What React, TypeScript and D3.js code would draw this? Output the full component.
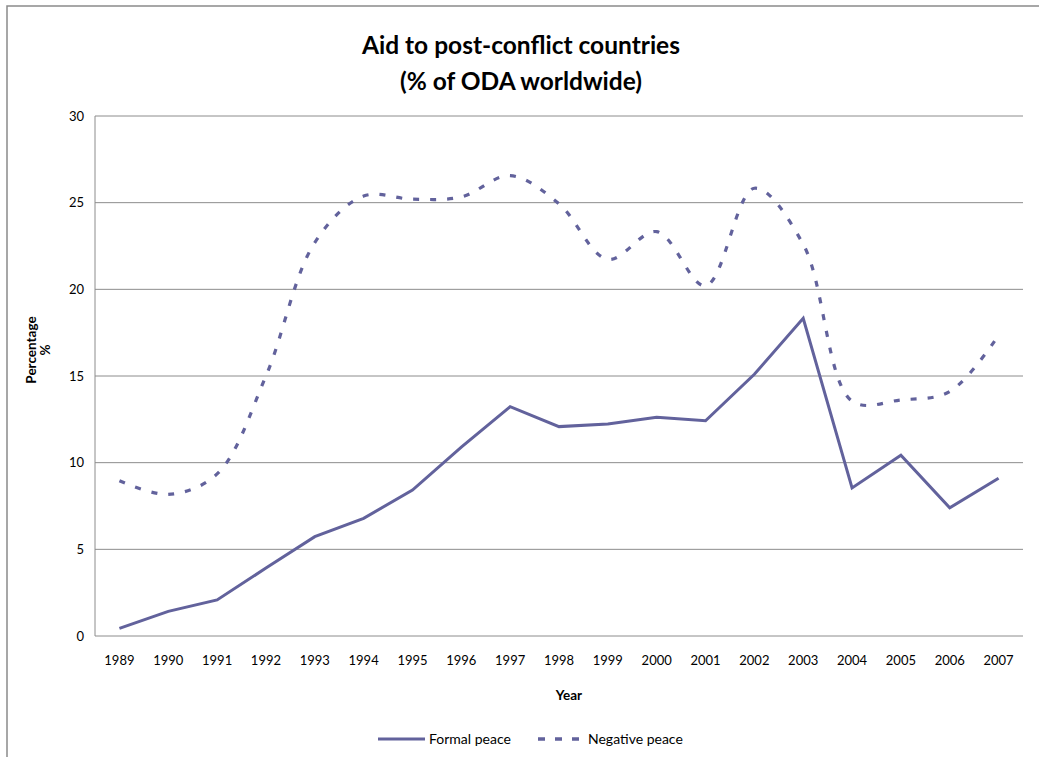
import React from "react";
import * as d3 from "d3";

const years = ["1989","1990","1991","1992","1993","1994","1995","1996","1997","1998","1999","2000","2001","2002","2003","2004","2005","2006","2007"];
const formalPeace = [0.44, 1.42, 2.08, 3.92, 5.73, 6.79, 8.42, 10.9, 13.23, 12.08, 12.23, 12.62, 12.42, 15.1, 18.33, 8.54, 10.43, 7.4, 9.1];
const negativePeace = [8.96, 8.17, 9.35, 15.0, 22.7, 25.38, 25.2, 25.33, 26.56, 24.93, 21.73, 23.33, 20.2, 25.83, 22.6, 13.55, 13.62, 14.1, 17.35];
const yTicks = [0, 5, 10, 15, 20, 25, 30];
const titleLines = ["Aid to post-conflict countries", "(% of ODA worldwide)"];
const seriesNames = ["Formal peace", "Negative peace"];

const W = 1039, H = 757;
const FONT = "Lato, 'Open Sans', sans-serif";
const COLOR = "#62629c";
const GRID = "#8c8c8c";

export default function App() {
  const x = d3.scaleBand<string>().domain(years).range([95, 1023]);
  const cx = (d: string) => (x(d) as number) + x.bandwidth() / 2;
  const y = d3.scaleLinear().domain([0, 30]).range([636, 116]);

  const lineStraight = d3.line<number>().x((_, i) => cx(years[i])).y((d) => y(d));
  const lineSmooth = d3
    .line<number>()
    .x((_, i) => cx(years[i]))
    .y((d) => y(d))
    .curve(d3.curveCatmullRom.alpha(0.5));

  return (
    <svg
      width={W}
      height={H}
      style={{ position: "absolute", left: 0, top: 0, background: "#fff" }}
      fontFamily={FONT}
    >
      <rect x={0} y={0} width={W} height={H} fill="#fff" />
      <rect x={7} y={6} width={W + 20} height={H + 20} fill="none" stroke="#8a8a8a" strokeWidth={1.5} />

      {titleLines.map((t, i) => (
        <text key={t} x={521} y={54 + i * 36} textAnchor="middle" fontSize={24.5} fontWeight="bold" fill="#000">
          {t}
        </text>
      ))}

      {yTicks.map((t) => (
        <g key={t}>
          {t > 0 && (
            <line x1={95} x2={1023} y1={y(t)} y2={y(t)} stroke={GRID} strokeWidth={1} />
          )}
          <text x={84} y={y(t)} dy="0.35em" textAnchor="end" fontSize={13} fill="#000">
            {t}
          </text>
        </g>
      ))}
      <line x1={95} x2={95} y1={116} y2={636} stroke={GRID} strokeWidth={1} />
      <line x1={95} x2={1023} y1={636} y2={636} stroke={GRID} strokeWidth={1} />

      {years.map((yr) => (
        <text key={yr} x={cx(yr)} y={665} textAnchor="middle" fontSize={13} fill="#000">
          {yr}
        </text>
      ))}

      <text x={569} y={700} textAnchor="middle" fontSize={13.5} fontWeight="bold" fill="#000">
        Year
      </text>
      <g transform="translate(36,350) rotate(-90)">
        <text x={0} y={0} textAnchor="middle" fontSize={13.5} fontWeight="bold" fill="#000">
          Percentage
        </text>
        <text x={0} y={14} textAnchor="middle" fontSize={13.5} fontWeight="bold" fill="#000">
          %
        </text>
      </g>

      <path d={lineStraight(formalPeace) || ""} fill="none" stroke={COLOR} strokeWidth={3} strokeLinejoin="miter" />
      <path d={lineSmooth(negativePeace) || ""} fill="none" stroke={COLOR} strokeWidth={3.2} strokeDasharray="6 11" />

      <line x1={378} x2={425} y1={739} y2={739} stroke={COLOR} strokeWidth={3} />
      <text x={429} y={739} dy="0.35em" fontSize={14} fill="#000">{seriesNames[0]}</text>
      <line x1={538} x2={580} y1={739} y2={739} stroke={COLOR} strokeWidth={3.5} strokeDasharray="7 10" />
      <text x={588} y={739} dy="0.35em" fontSize={14} fill="#000">{seriesNames[1]}</text>
    </svg>
  );
}
